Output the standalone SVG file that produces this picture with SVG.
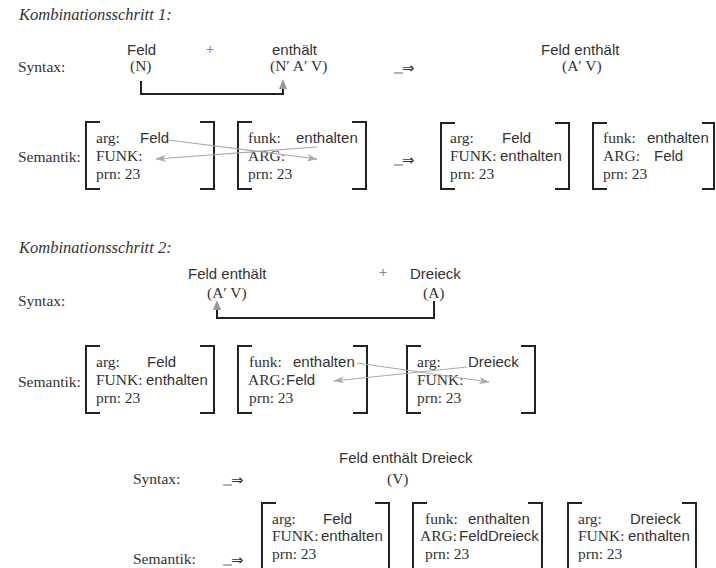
<svg xmlns="http://www.w3.org/2000/svg" width="716" height="568" viewBox="0 0 716 568">
<style>
text{fill:#333}
.h{font-family:"Liberation Serif",serif;font-style:italic;font-size:16.5px}
.s{font-family:"Liberation Serif",serif;font-size:15.5px}
.a{font-family:"Liberation Sans",Arial,sans-serif;font-size:15px}
.im{font-family:"DejaVu Sans",sans-serif;font-size:15px}
.pl{font-family:"Liberation Sans",sans-serif;font-size:14px;fill:#888}
.br{fill:none;stroke:#222;stroke-width:2}
.syn{fill:none;stroke:#222;stroke-width:2}
.sem{fill:none;stroke:#aaa;stroke-width:1.2}
.us{stroke:#999;stroke-width:1.5}
</style>
<defs>
<marker id="synHead" markerUnits="userSpaceOnUse" markerWidth="10" markerHeight="8" refX="0" refY="4" orient="auto"><path d="M0,0 L10,4 L0,8 z" fill="#999"/></marker>
<marker id="semHead" markerUnits="userSpaceOnUse" markerWidth="11" markerHeight="7" refX="10" refY="3.5" orient="auto"><path d="M0,0 L11,3.5 L0,7 L3,3.5 z" fill="#aaa"/></marker>
</defs>

<!-- Headings and labels -->
<g id="labels">
<text class="h" x="19" y="20">Kombinationsschritt 1:</text>
<text class="s" x="18" y="72">Syntax:</text>
<text class="s" x="18" y="162">Semantik:</text>
<text class="h" x="19" y="253">Kombinationsschritt 2:</text>
<text class="s" x="18" y="306">Syntax:</text>
<text class="s" x="18" y="387">Semantik:</text>
<text class="s" x="133" y="484">Syntax:</text>
<text class="s" x="133" y="564">Semantik:</text>
</g>

<!-- Implication arrows -->
<g id="implies">
<line class="us" x1="394" y1="73" x2="403" y2="73"/><text class="im" x="402" y="73">⇒</text>
<line class="us" x1="394" y1="165" x2="403" y2="165"/><text class="im" x="402" y="165">⇒</text>
<line class="us" x1="223" y1="485" x2="232" y2="485"/><text class="im" x="231" y="485">⇒</text>
<line class="us" x1="223" y1="565" x2="232" y2="565"/><text class="im" x="231" y="565">⇒</text>
</g>

<!-- Step 1 syntax -->
<g id="syn1-feld">
<text class="a" x="127" y="55">Feld</text>
<text class="s" x="130" y="71">(N)</text>
</g>
<text class="pl" x="206" y="54">+</text>
<g id="syn1-enthaelt">
<text class="a" x="272" y="55">enthält</text>
<text class="s" x="270" y="71">(N′ A′ V)</text>
</g>
<g id="syn1-result">
<text class="a" x="541" y="55">Feld enthält</text>
<text class="s" x="562" y="71">(A′ V)</text>
</g>

<!-- Step 1 semantics -->
<g id="sem1-feld">
<path class="br" d="M100,122 H86 V189 H100 M200,122 H214 V189 H200"/>
<text class="s" x="96" y="143">arg:</text><text class="a" x="140" y="143">Feld</text>
<text class="s" x="96" y="161">FUNK:</text>
<text class="s" x="96" y="179">prn: 23</text>
</g>
<g id="sem1-enthalten">
<path class="br" d="M252,122 H238 V189 H252 M352,122 H366 V189 H352"/>
<text class="s" x="248" y="143">funk:</text><text class="a" x="296" y="143">enthalten</text>
<text class="s" x="248" y="161">ARG:</text>
<text class="s" x="248" y="179">prn: 23</text>
</g>
<g id="sem1-res-feld">
<path class="br" d="M455,123 H441 V189 H455 M555,123 H569 V189 H555"/>
<text class="s" x="450" y="143">arg:</text><text class="a" x="502" y="143">Feld</text>
<text class="s" x="450" y="161">FUNK:</text><text class="a" x="500" y="161">enthalten</text>
<text class="s" x="450" y="179">prn: 23</text>
</g>
<g id="sem1-res-enthalten">
<path class="br" d="M607,123 H593 V189 H607 M702,123 H714 V189 H702"/>
<text class="s" x="603" y="143">funk:</text><text class="a" x="647" y="143">enthalten</text>
<text class="s" x="603" y="161">ARG:</text><text class="a" x="654" y="161">Feld</text>
<text class="s" x="603" y="179">prn: 23</text>
</g>

<!-- Step 2 syntax -->
<g id="syn2-feldenthaelt">
<text class="a" x="188" y="279">Feld enthält</text>
<text class="s" x="207" y="298">(A′ V)</text>
</g>
<text class="pl" x="379" y="277">+</text>
<g id="syn2-dreieck">
<text class="a" x="410" y="279">Dreieck</text>
<text class="s" x="423" y="298">(A)</text>
</g>

<!-- Step 2 semantics -->
<g id="sem2-feld">
<path class="br" d="M100,346 H86 V413 H100 M200,346 H214 V413 H200"/>
<text class="s" x="96" y="367">arg:</text><text class="a" x="147" y="367">Feld</text>
<text class="s" x="96" y="385">FUNK:</text><text class="a" x="146" y="385">enthalten</text>
<text class="s" x="96" y="403">prn: 23</text>
</g>
<g id="sem2-enthalten">
<path class="br" d="M252,346 H238 V413 H252 M353,346 H367 V413 H353"/>
<text class="s" x="249" y="367">funk:</text><text class="a" x="293" y="367">enthalten</text>
<text class="s" x="248" y="385">ARG:</text><text class="a" x="286" y="385">Feld</text>
<text class="s" x="249" y="403">prn: 23</text>
</g>
<g id="sem2-dreieck">
<path class="br" d="M421,346 H407 V413 H421 M521,346 H535 V413 H521"/>
<text class="s" x="417" y="367">arg:</text><text class="a" x="468" y="367">Dreieck</text>
<text class="s" x="417" y="385">FUNK:</text>
<text class="s" x="417" y="403">prn: 23</text>
</g>

<!-- Result -->
<g id="syn3-result">
<text class="a" x="339" y="463">Feld enthält Dreieck</text>
<text class="s" x="387" y="484">(V)</text>
</g>
<g id="sem3-feld">
<path class="br" d="M276,503 H262 V575 M375,503 H389 V575"/>
<text class="s" x="272" y="524">arg:</text><text class="a" x="323" y="524">Feld</text>
<text class="s" x="272" y="541">FUNK:</text><text class="a" x="321" y="541">enthalten</text>
<text class="s" x="272" y="559">prn: 23</text>
</g>
<g id="sem3-enthalten">
<path class="br" d="M427,503 H413 V575 M528,503 H542 V575"/>
<text class="s" x="425" y="524">funk:</text><text class="a" x="468" y="524">enthalten</text>
<text class="s" x="420" y="541">ARG:</text><text class="a" x="459" y="541">Feld</text><text class="a" x="488" y="541">Dreieck</text>
<text class="s" x="425" y="559">prn: 23</text>
</g>
<g id="sem3-dreieck">
<path class="br" d="M582,503 H568 V575 M682,503 H696 V575"/>
<text class="s" x="578" y="524">arg:</text><text class="a" x="630" y="524">Dreieck</text>
<text class="s" x="578" y="541">FUNK:</text><text class="a" x="628" y="541">enthalten</text>
<text class="s" x="578" y="559">prn: 23</text>
</g>

<!-- Connectors -->
<g id="connectors">
<path class="syn" d="M141,81 V94 H283 V89" marker-end="url(#synHead)"/>
<path class="syn" d="M434,301 V318 H217 V310" marker-end="url(#synHead)"/>
<line class="sem" x1="168" y1="140" x2="317" y2="159" marker-end="url(#semHead)"/>
<line class="sem" x1="317" y1="147" x2="156" y2="159" marker-end="url(#semHead)"/>
<line class="sem" x1="357" y1="363" x2="489" y2="382" marker-end="url(#semHead)"/>
<line class="sem" x1="467" y1="367" x2="334" y2="381" marker-end="url(#semHead)"/>
</g>
</svg>
